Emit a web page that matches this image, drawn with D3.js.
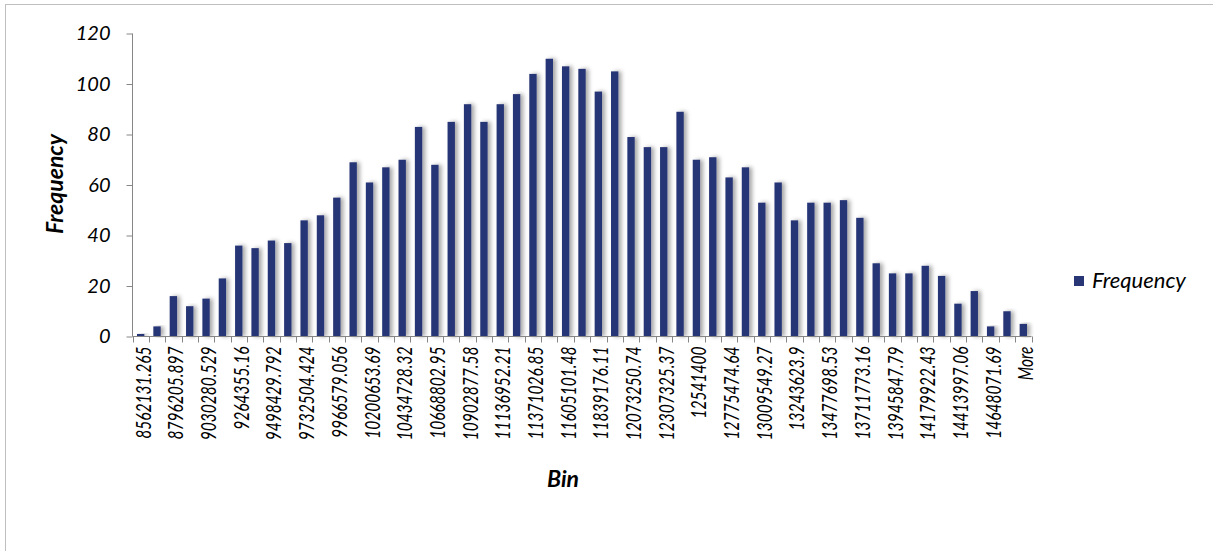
<!DOCTYPE html>
<html><head><meta charset="utf-8">
<script src="https://cdn.jsdelivr.net/npm/d3@7"></script>
<style>body{margin:0;background:#fff}text{font-family:Lato,"Open Sans",sans-serif}</style>
</head><body>
<svg id="c" width="1213" height="551"></svg>
<script>
const bins = ["8562131.265","8679168.581","8796205.897","8913243.213","9030280.529","9147317.845","9264355.16","9381392.476","9498429.792","9615467.108","9732504.424","9849541.74","9966579.056","10083616.37","10200653.69","10317691","10434728.32","10551765.64","10668802.95","10785840.27","10902877.58","11019914.9","11136952.21","11253989.53","11371026.85","11488064.16","11605101.48","11722138.79","11839176.11","11956213.43","12073250.74","12190288.06","12307325.37","12424362.69","12541400","12658437.32","12775474.64","12892511.95","13009549.27","13126586.58","13243623.9","13360661.21","13477698.53","13594735.85","13711773.16","13828810.48","13945847.79","14062885.11","14179922.43","14296959.74","14413997.06","14531034.37","14648071.69","14765109","More"];
const frequency = [1,4,16,12,15,23,36,35,38,37,46,48,55,69,61,67,70,83,68,85,92,85,92,96,104,110,107,106,97,105,79,75,75,89,70,71,63,67,53,61,46,53,53,54,47,29,25,25,28,24,13,18,4,10,5];
const yTicks = [0,20,40,60,80,100,120];

const svg = d3.select("#c");
svg.append("rect").attr("x",5.5).attr("y",4.5).attr("width",1220).attr("height",560)
  .attr("fill","#fff").attr("stroke","#bfbfbf");

const defs = svg.append("defs");
const f = defs.append("filter").attr("id","sh").attr("x","-100%").attr("y","-10%").attr("width","300%").attr("height","120%");
f.append("feDropShadow").attr("dx",3).attr("dy",0).attr("stdDeviation",2.2).attr("flood-color","#000").attr("flood-opacity",0.35);

const x = d3.scaleBand().domain(bins).range([132.5,1031.5]).paddingInner(0.55).paddingOuter(0.275);
const y = d3.scaleLinear().domain([0,120]).range([336.5,33.5]);

svg.append("g").selectAll("rect").data(frequency).join("rect")
  .attr("x",(d,i)=>x(bins[i])).attr("width",x.bandwidth())
  .attr("y",d=>y(d)).attr("height",d=>y(0)-y(d))
  .attr("fill","#283676").attr("filter","url(#sh)");

// y axis
const ya = svg.append("g").attr("transform","translate(132.5,0)")
  .call(d3.axisLeft(y).tickValues(yTicks).tickSize(6).tickPadding(16).tickFormat(d3.format("d")));
ya.select(".domain").attr("stroke","#868686").attr("d","M0,"+y(120)+"V"+y(0));
ya.selectAll(".tick line").attr("stroke","#868686");
ya.selectAll(".tick text").attr("font-size",20).attr("font-style","italic").attr("fill","#000").attr("font-family","Lato");

// x axis
const xa = svg.append("g").attr("transform","translate(0,"+y(0)+")");
xa.append("line").attr("x1",132.5).attr("x2",1031.5).attr("stroke","#868686");
xa.selectAll("line.t").data(d3.range(bins.length+1)).join("line").attr("class","t")
  .attr("x1",i=>Math.round(132.5 + i*(899/bins.length))+0.5).attr("x2",i=>Math.round(132.5 + i*(899/bins.length))+0.5)
  .attr("y1",0).attr("y2",6).attr("stroke","#868686");
xa.selectAll("text").data(bins.filter((d,i)=>i%2===0)).join("text")
  .attr("transform",d=>"translate("+(x(d)+x.bandwidth()/2+10)+",10) rotate(-90) scale(0.74,1)")
  .attr("text-anchor","end").attr("font-size",21).attr("font-style","italic").attr("fill","#000")
  .text(d=>d);

svg.append("text").attr("x",563).attr("y",487).attr("text-anchor","middle")
  .attr("font-size",23).attr("font-weight","bold").attr("font-style","italic").text("Bin");
svg.append("text").attr("transform","translate(63,184) rotate(-90)").attr("text-anchor","middle")
  .attr("font-size",23).attr("font-weight","bold").attr("font-style","italic").text("Frequency");

// legend
svg.append("rect").attr("x",1074).attr("y",276).attr("width",10).attr("height",10).attr("fill","#283676");
svg.append("text").attr("x",1092).attr("y",288).attr("font-size",22).attr("font-style","italic").text("Frequency");
</script>
</body></html>
